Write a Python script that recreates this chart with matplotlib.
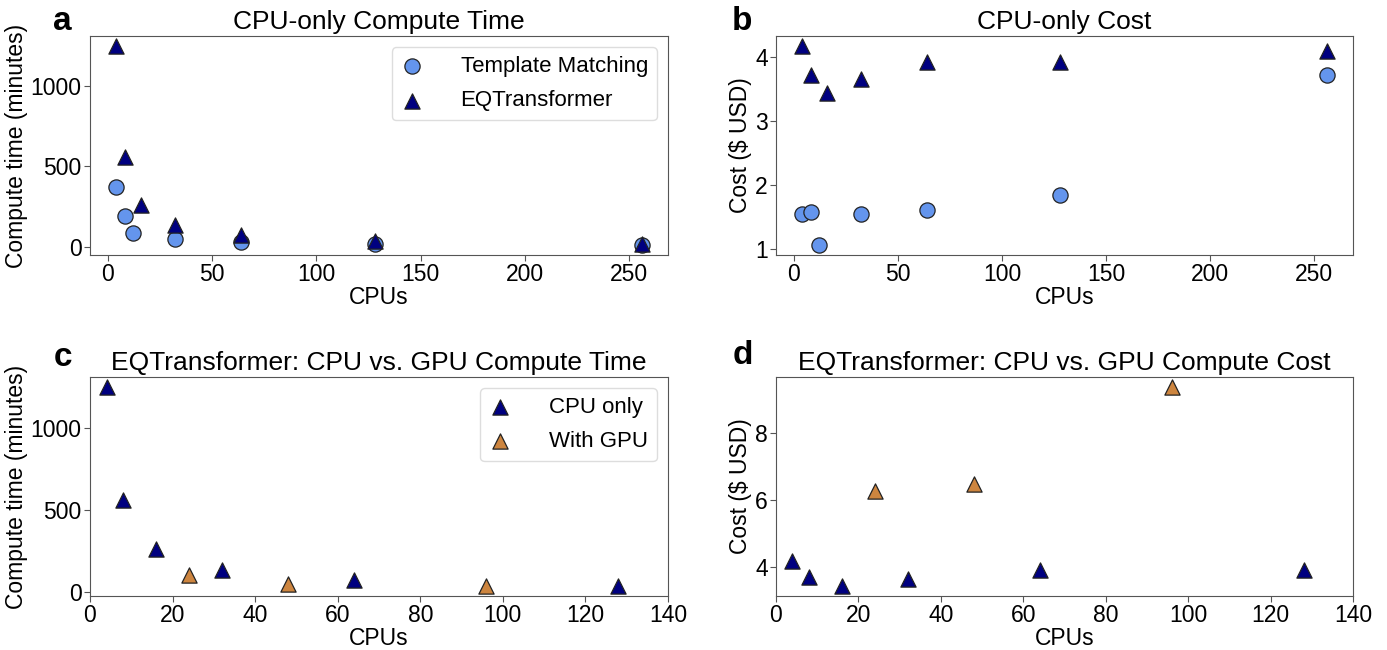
import matplotlib
matplotlib.use("Agg")
import matplotlib.pyplot as plt

plt.rcParams['font.family'] = ['Liberation Sans', 'DejaVu Sans']

# Panel a / b data (CPU only)
tm_cpus = [4, 8, 12, 32, 64, 128, 256]
tm_time = [370, 190, 85, 50, 28, 15, 10]
tm_cost = [1.55, 1.58, 1.06, 1.55, 1.61, 1.84, 3.72]

eqt_cpus = [4, 8, 16, 32, 64, 128, 256]
eqt_time = [1250, 560, 260, 135, 72, 36, 18]
eqt_cost = [4.17, 3.72, 3.44, 3.66, 3.92, 3.92, 4.09]

# Panel c / d data
cpu_only_cpus = [4, 8, 16, 32, 64, 128]
cpu_only_time = [1250, 560, 260, 135, 72, 36]
cpu_only_cost = [4.17, 3.72, 3.44, 3.66, 3.92, 3.92]

gpu_cpus = [24, 48, 96]
gpu_time = [100, 50, 35]
gpu_cost = [6.28, 6.46, 9.36]

C_TM = '#6495ED'
C_EQT = '#000080'
C_GPU = '#CD853F'

W, H = 1387, 650
fig = plt.figure(figsize=(W / 100, H / 100), dpi=100)

def rect(l, t, r, b):
    return [l / W, 1 - b / H, (r - l) / W, (b - t) / H]

axa = fig.add_axes(rect(90, 36, 668, 255))
axb = fig.add_axes(rect(776, 36, 1353, 255))
axc = fig.add_axes(rect(90, 377, 668, 596))
axd = fig.add_axes(rect(776, 377, 1353, 596))

ms = 120
kw = dict(edgecolors='#222222', linewidths=0.9, zorder=3)
TFS = 19
LFS = 16.5
KFS = 16.5

leg_kw = dict(loc='upper right', fontsize=16, borderpad=0.4, labelspacing=0.6,
              handlelength=1.0, handletextpad=1.7, framealpha=1, edgecolor='#dddddd',
              borderaxespad=0.5)

axa.scatter(tm_cpus, tm_time, s=ms, marker='o', color=C_TM, label='Template Matching', **kw)
axa.scatter(eqt_cpus, eqt_time, s=ms, marker='^', color=C_EQT, label='EQTransformer', **kw)
axa.set_title('CPU-only Compute Time', fontsize=TFS, pad=5)
axa.set_xlabel('CPUs', fontsize=LFS, labelpad=0)
axa.set_ylabel('Compute time (minutes)', fontsize=LFS, labelpad=2)
axa.legend(**leg_kw)
axa.set_yticks([0, 500, 1000])

axb.scatter(tm_cpus, tm_cost, s=ms, marker='o', color=C_TM, **kw)
axb.scatter(eqt_cpus, eqt_cost, s=ms, marker='^', color=C_EQT, **kw)
axb.set_title('CPU-only Cost', fontsize=TFS, pad=5)
axb.set_xlabel('CPUs', fontsize=LFS, labelpad=0)
axb.set_ylabel('Cost ($ USD)', fontsize=LFS, labelpad=2)
axb.set_yticks([1, 2, 3, 4])

axc.scatter(cpu_only_cpus, cpu_only_time, s=ms, marker='^', color=C_EQT, label='CPU only', **kw)
axc.scatter(gpu_cpus, gpu_time, s=ms, marker='^', color=C_GPU, label='With GPU', **kw)
axc.set_title('EQTransformer: CPU vs. GPU Compute Time', fontsize=TFS, pad=5)
axc.set_xlabel('CPUs', fontsize=LFS, labelpad=0)
axc.set_ylabel('Compute time (minutes)', fontsize=LFS, labelpad=2)
axc.set_xlim(0, 140)
axc.set_yticks([0, 500, 1000])
axc.legend(**leg_kw)

axd.scatter(cpu_only_cpus, cpu_only_cost, s=ms, marker='^', color=C_EQT, **kw)
axd.scatter(gpu_cpus, gpu_cost, s=ms, marker='^', color=C_GPU, **kw)
axd.set_title('EQTransformer: CPU vs. GPU Compute Cost', fontsize=TFS, pad=5)
axd.set_xlabel('CPUs', fontsize=LFS, labelpad=0)
axd.set_ylabel('Cost ($ USD)', fontsize=LFS, labelpad=2)
axd.set_xlim(0, 140)
axd.set_yticks([4, 6, 8])

for ax in (axa, axb, axc, axd):
    ax.tick_params(labelsize=KFS, color='#555555', length=4, pad=2)
    for sp in ax.spines.values():
        sp.set_color('#555555')

fig.text(62 / W, 1 - 22 / H, 'a', fontsize=24, fontweight='bold', ha='center', va='center')
fig.text(742 / W, 1 - 22 / H, 'b', fontsize=24, fontweight='bold', ha='center', va='center')
fig.text(63 / W, 1 - 358 / H, 'c', fontsize=24, fontweight='bold', ha='center', va='center')
fig.text(743 / W, 1 - 356 / H, 'd', fontsize=24, fontweight='bold', ha='center', va='center')

fig.savefig('out.png', dpi=100, facecolor='white')
